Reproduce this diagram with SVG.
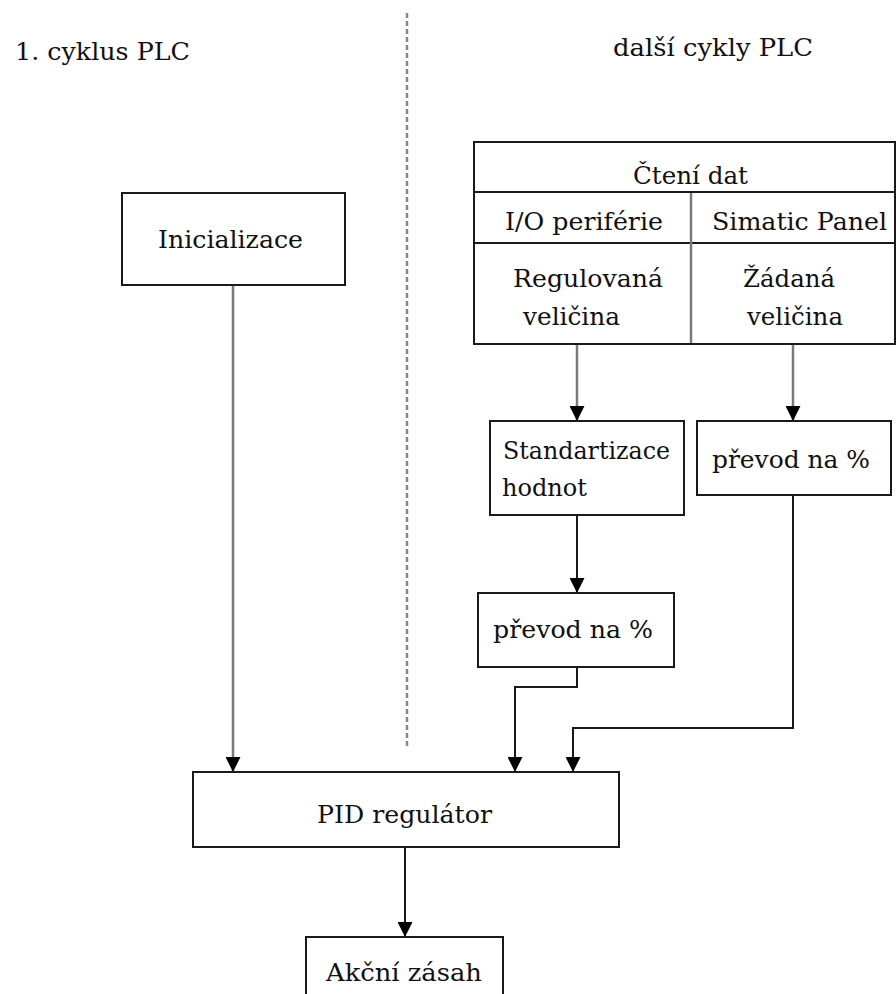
<svg xmlns="http://www.w3.org/2000/svg" width="896" height="994" viewBox="0 0 896 994">
<style>
text { font-family: "DejaVu Serif", "Liberation Serif", serif; font-size: 25px; fill: #111; }
.box { fill: #fff; stroke: #1a1a1a; stroke-width: 2; }
.grid { stroke: #1a1a1a; stroke-width: 2; fill: none; }
.gline { stroke: #7a7a7a; stroke-width: 2.5; fill: none; }
.bline { stroke: #1a1a1a; stroke-width: 2; fill: none; }
.dash { stroke: #888; stroke-width: 2.5; stroke-dasharray: 5 3; fill: none; }
</style>
<defs>
<marker id="ah" markerUnits="userSpaceOnUse" markerWidth="15" markerHeight="15" viewBox="0 0 15 15" refX="15" refY="7.5" orient="auto">
<path d="M0,0 L15,7.5 L0,15 z" fill="#000"/>
</marker>
</defs>
<rect width="896" height="994" fill="#fff"/>

<g id="headings">
<text x="15" y="60" textLength="175" lengthAdjust="spacingAndGlyphs">1. cyklus PLC</text>
<text x="613" y="56" textLength="200" lengthAdjust="spacingAndGlyphs">další cykly PLC</text>
</g>
<g id="divider">
<line class="dash" x1="407" y1="13" x2="407" y2="748"/>
</g>

<g id="connectors">
<line class="gline" x1="233" y1="286" x2="233" y2="772" marker-end="url(#ah)"/>
<line class="gline" x1="577" y1="345" x2="577" y2="421" marker-end="url(#ah)"/>
<line class="gline" x1="793" y1="345" x2="793" y2="421" marker-end="url(#ah)"/>
<line class="bline" x1="577" y1="516" x2="577" y2="593" marker-end="url(#ah)"/>
<polyline class="bline" points="577,668 577,687 515,687 515,772" marker-end="url(#ah)"/>
<polyline class="bline" points="793,496 793,728 573,728 573,772" marker-end="url(#ah)"/>
<line class="bline" x1="405" y1="848" x2="405" y2="937" marker-end="url(#ah)"/>
</g>

<g id="inicializace">
<rect class="box" x="122" y="193" width="223" height="92"/>
<text x="158" y="248" textLength="145" lengthAdjust="spacingAndGlyphs">Inicializace</text>
</g>

<g id="cteni-dat">
<rect class="box" x="474" y="142" width="421" height="202"/>
<line class="grid" x1="474" y1="192" x2="895" y2="192"/>
<line class="grid" x1="474" y1="243" x2="895" y2="243"/>
<line class="gline" x1="691" y1="193" x2="691" y2="343"/>
<text x="633" y="184" textLength="115" lengthAdjust="spacingAndGlyphs">Čtení dat</text>
<text x="505" y="230" textLength="158" lengthAdjust="spacingAndGlyphs">I/O periférie</text>
<text x="712" y="230" textLength="175" lengthAdjust="spacingAndGlyphs">Simatic Panel</text>
<text x="513" y="287" textLength="150" lengthAdjust="spacingAndGlyphs">Regulovaná</text>
<text x="523" y="325" textLength="97" lengthAdjust="spacingAndGlyphs">veličina</text>
<text x="743" y="287" textLength="92" lengthAdjust="spacingAndGlyphs">Žádaná</text>
<text x="747" y="325" textLength="96" lengthAdjust="spacingAndGlyphs">veličina</text>
</g>

<g id="standartizace">
<rect class="box" x="490" y="421" width="194" height="94"/>
<text x="503" y="459" textLength="167" lengthAdjust="spacingAndGlyphs">Standartizace</text>
<text x="502" y="496" textLength="85" lengthAdjust="spacingAndGlyphs">hodnot</text>
</g>

<g id="prevod-zadana">
<rect class="box" x="697" y="421" width="194" height="74"/>
<text x="712" y="468" textLength="158" lengthAdjust="spacingAndGlyphs">převod na %</text>
</g>

<g id="prevod-regulovana">
<rect class="box" x="478" y="593" width="196" height="74"/>
<text x="493" y="638" textLength="160" lengthAdjust="spacingAndGlyphs">převod na %</text>
</g>

<g id="pid">
<rect class="box" x="193" y="772" width="426" height="75"/>
<text x="317" y="823" textLength="175" lengthAdjust="spacingAndGlyphs">PID regulátor</text>
</g>

<g id="akcni-zasah">
<rect class="box" x="306" y="937" width="197" height="70"/>
<text x="326" y="981" textLength="156" lengthAdjust="spacingAndGlyphs">Akční zásah</text>
</g>
</svg>
